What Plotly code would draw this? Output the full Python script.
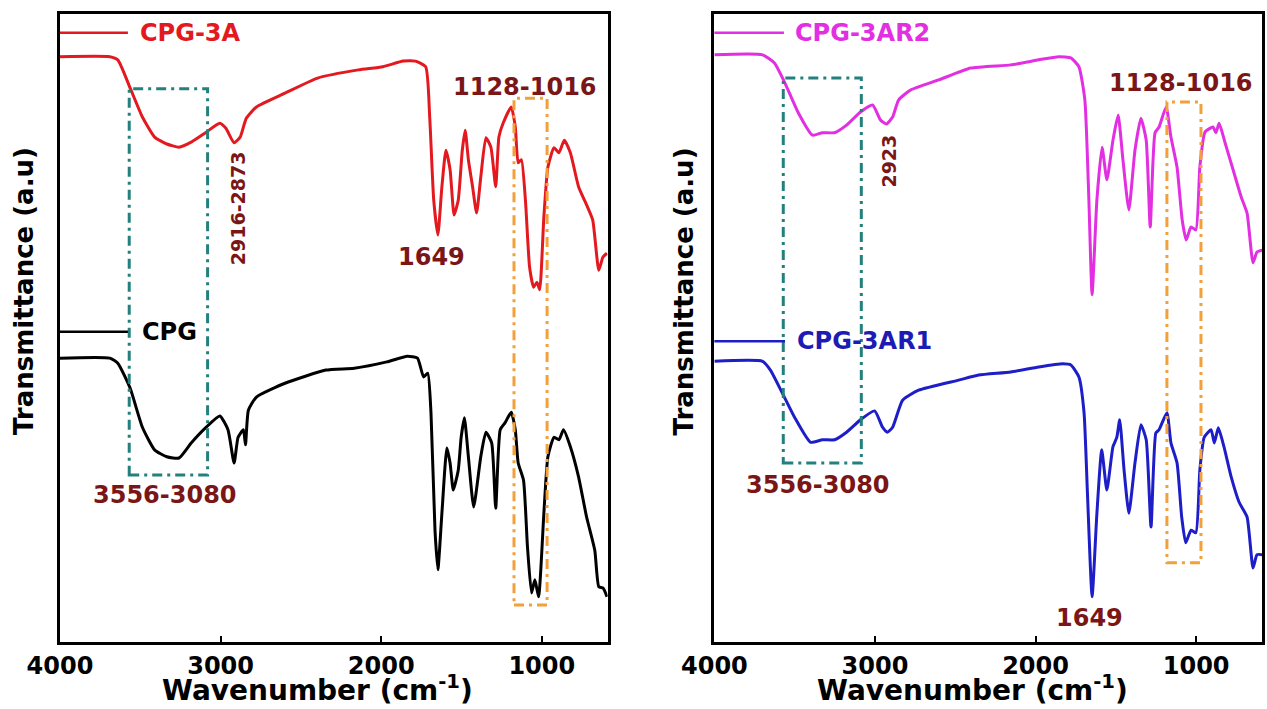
import plotly.graph_objects as go

# ---------------- data ----------------
# CPG-3A (left panel, upper, red)
wn_cpg3a = [4000, 3690, 3640, 3563, 3487, 3411, 3335, 3259, 3183, 3094, 3005, 2967, 2916, 2878, 2840,
            2777, 2599, 2396, 2142, 1990, 1863, 1787, 1723, 1698, 1673, 1647, 1622, 1597, 1571, 1546,
            1520, 1495, 1477, 1457, 1431, 1406, 1380, 1348, 1317, 1287, 1267, 1241, 1190, 1165, 1147,
            1127, 1102, 1076, 1051, 1030, 1013, 987, 962, 924, 893, 860, 822, 771, 721, 683, 645, 619, 594]
t_cpg3a = [93.2, 93.2, 92.7, 88.2, 83.6, 80.4, 79.3, 78.8, 79.6, 81.1, 82.6, 81.8, 79.5, 80.4, 83.4,
           85.2, 87.4, 89.8, 91.1, 91.6, 92.5, 92.5, 91.6, 83.6, 70.4, 64.8, 72.5, 78.3, 75.2, 68.0,
           70.4, 78.3, 81.5, 76.8, 72.5, 68.3, 74.0, 80.3, 78.8, 72.5, 80.4, 82.6, 85.2, 82.0, 76.3,
           76.8, 70.4, 59.7, 56.5, 57.3, 56.1, 67.7, 75.6, 78.7, 77.9, 79.9, 77.9, 72.5, 69.6, 67.2, 59.2, 61.3, 61.9]

# CPG (left panel, lower, black)
wn_cpg = [4000, 3690, 3640, 3563, 3487, 3411, 3335, 3259, 3183, 3094, 3005, 2954, 2916, 2891, 2858,
          2845, 2827, 2777, 2599, 2345, 2168, 1965, 1838, 1774, 1736, 1710, 1690, 1665, 1647, 1622,
          1591, 1571, 1551, 1520, 1502, 1482, 1457, 1424, 1380, 1348, 1312, 1287, 1259, 1229, 1190,
          1165, 1147, 1114, 1089, 1064, 1043, 1020, 987, 962, 924, 893, 865, 822, 771, 721, 670, 645, 619, 594]
t_cpg = [45.2, 45.2, 44.4, 40.4, 34.2, 30.6, 29.5, 29.3, 31.7, 34.1, 36.0, 33.8, 28.5, 32.6, 33.8,
         31.4, 36.9, 39.0, 41.2, 43.3, 43.6, 44.6, 45.5, 45.2, 42.2, 42.8, 36.5, 17.8, 11.5, 20.5,
         30.9, 28.5, 24.2, 27.4, 32.6, 35.7, 29.5, 21.5, 29.5, 33.4, 31.7, 21.3, 33.8, 34.9, 36.6,
         33.8, 28.5, 25.8, 15.1, 7.8, 9.9, 7.2, 20.5, 29.5, 32.6, 32.2, 33.8, 31.1, 26.3, 19.9, 14.6, 8.8, 8.6, 7.2]

# CPG-3AR2 (right panel, upper, magenta)
wn_cpg3ar2 = [4000, 3700, 3626, 3564, 3476, 3389, 3327, 3252, 3177, 3090, 3015, 2965, 2928, 2890, 2853,
              2778, 2603, 2404, 2154, 1980, 1855, 1780, 1730, 1693, 1668, 1648, 1618, 1586, 1556, 1518,
              1486, 1456, 1419, 1381, 1344, 1311, 1286, 1256, 1231, 1187, 1157, 1119, 1087, 1062, 1032,
              1002, 977, 945, 895, 877, 857, 820, 770, 720, 683, 646, 621, 588]
t_cpg3ar2 = [93.5, 93.5, 92.2, 89.2, 84.2, 80.7, 81.1, 81.1, 82.3, 84.4, 85.5, 83.1, 82.5, 83.6, 86.3,
             87.9, 89.5, 91.4, 91.9, 92.7, 93.2, 93.0, 91.6, 86.3, 70.4, 55.3, 70.4, 78.8, 73.6, 79.9,
             83.9, 76.8, 68.8, 78.3, 83.4, 79.9, 66.1, 81.1, 82.0, 85.2, 80.4, 75.6, 67.2, 64.0, 66.1,
             65.6, 75.6, 81.2, 82.0, 81.1, 82.6, 79.5, 75.2, 70.9, 68.3, 60.4, 62.1, 62.4]

# CPG-3AR1 (right panel, lower, blue)
wn_cpg3ar1 = [4000, 3700, 3651, 3576, 3501, 3401, 3327, 3252, 3177, 3090, 3002, 2953, 2923, 2890, 2828,
              2728, 2479, 2354, 2154, 1980, 1830, 1780, 1730, 1698, 1676, 1648, 1618, 1588, 1556, 1518,
              1494, 1476, 1449, 1419, 1381, 1344, 1311, 1281, 1251, 1231, 1182, 1157, 1119, 1090, 1065,
              1032, 1002, 977, 950, 907, 887, 862, 827, 782, 733, 683, 646, 621, 588]
t_cpg3ar1 = [44.7, 44.7, 43.3, 39.6, 35.8, 31.8, 32.2, 32.2, 33.4, 35.4, 36.8, 34.2, 33.4, 34.2, 38.5,
             40.1, 41.7, 42.5, 43.0, 43.8, 44.3, 44.1, 42.2, 36.5, 23.1, 7.2, 20.5, 30.6, 24.2, 31.1,
             32.6, 35.4, 27.4, 20.5, 28.5, 34.6, 32.2, 18.3, 33.3, 33.8, 36.5, 31.7, 28.5, 19.9, 15.8,
             17.8, 17.4, 27.4, 32.6, 33.8, 31.7, 34.1, 31.1, 26.3, 22.3, 19.9, 11.8, 13.9, 13.9]

x_ticks = [4000, 3000, 2000, 1000]
x_range = [4000, 590]
y_range = [0, 100]

# highlighted regions: (x_left, x_right, y_bottom, y_top)
left_boxes = {"teal": (3569, 3081, 26.6, 88.1), "orange": (1173, 967, 5.9, 86.6)}
right_boxes = {"teal": (3571, 3085, 28.5, 89.8), "orange": (1182, 970, 12.6, 86.0)}

# peak labels: (text, x, y, angle)
left_labels = [("1128-1016", 1106, 88.4, 0), ("2916-2873", 2891, 69.1, -90),
               ("1649", 1685, 61.3, 0), ("3556-3080", 3348, 23.4, 0)]
right_labels = [("1128-1016", 1094, 89.0, 0), ("2923", 2915, 76.6, -90),
                ("3556-3080", 3352, 25.0, 0), ("1649", 1661, 3.8, 0)]

# ---------------- styling ----------------
FONT = "DejaVu Sans"
RED = "#e3191f"
BLACK = "#000000"
MAGENTA = "#e22fe2"
BLUE = "#1e1ec8"
LABEL = "#7a1616"
TEAL = "#23807d"
ORANGE = "#f2a03a"
DASH = "10px,5px,3px,5px"

fig = go.Figure()

series = [
    (wn_cpg3a, t_cpg3a, RED, "CPG-3A", "x", "y"),
    (wn_cpg, t_cpg, BLACK, "CPG", "x", "y"),
    (wn_cpg3ar2, t_cpg3ar2, MAGENTA, "CPG-3AR2", "x2", "y2"),
    (wn_cpg3ar1, t_cpg3ar1, BLUE, "CPG-3AR1", "x2", "y2"),
]
for wn, t, col, name, xa, ya in series:
    fig.add_trace(go.Scatter(x=wn, y=t, mode="lines", name=name, xaxis=xa, yaxis=ya,
                             line=dict(color=col, width=3, shape="spline", smoothing=0.5),
                             showlegend=False))

axis_common = dict(range=x_range, tickvals=x_ticks, ticks="inside", ticklen=6, tickwidth=2,
                   tickcolor="black", showline=True, linecolor="black", linewidth=2.5, mirror=True,
                   showgrid=False, zeroline=False, ticklabelstandoff=0,
                   tickfont=dict(family=FONT, size=24, color="black", weight="bold"))
yaxis_common = dict(range=y_range, showticklabels=False, ticks="", showline=True, linecolor="black",
                    linewidth=2.5, mirror=True, showgrid=False, zeroline=False)

fig.update_layout(
    width=1267, height=709,
    margin=dict(l=60, r=2, t=14, b=67),
    paper_bgcolor="white", plot_bgcolor="white",
    xaxis=dict(domain=[0, 0.4556], anchor="y", **axis_common),
    yaxis=dict(domain=[0, 1], anchor="x", **yaxis_common),
    xaxis2=dict(domain=[0.5444, 1.0], anchor="y2", **axis_common),
    yaxis2=dict(domain=[0, 1], anchor="x2", **yaxis_common),
)

# boxes
for (xa, ya, boxes) in (("x", "y", left_boxes), ("x2", "y2", right_boxes)):
    for key, (x0, x1, y0, y1) in boxes.items():
        col = TEAL if key == "teal" else ORANGE
        fig.add_shape(type="rect", xref=xa, yref=ya, x0=x0, x1=x1, y0=y0, y1=y1,
                      line=dict(color=col, width=3, dash=DASH), fillcolor="rgba(0,0,0,0)")

# peak labels
for (xa, ya, labels) in (("x", "y", left_labels), ("x2", "y2", right_labels)):
    for text, x, y, ang in labels:
        fig.add_annotation(x=x, y=y, xref=xa, yref=ya, text=text, showarrow=False,
                           textangle=ang, xanchor="center", yanchor="middle",
                           font=dict(family=FONT, size=19 if ang else 24, color=LABEL, weight="bold"))

# in-plot legend keys: (axis, line end in domain fraction, y in domain fraction, text x, color, name)
legend_keys = [
    ("x", "y", 0.124, 0.970, 0.142, RED, RED, "CPG-3A"),
    ("x", "y", 0.124, 0.494, 0.146, BLACK, BLACK, "CPG"),
    ("x2", "y2", 0.127, 0.970, 0.144, MAGENTA, MAGENTA, "CPG-3AR2"),
    ("x2", "y2", 0.129, 0.479, 0.148, BLUE, "#1c1cb4", "CPG-3AR1"),
]
for xa, ya, xend, yk, xt, lc, tc, name in legend_keys:
    fig.add_shape(type="line", xref=xa + " domain", yref=ya + " domain", x0=0, x1=xend, y0=yk, y1=yk,
                  line=dict(color=lc, width=2.5))
    fig.add_annotation(xref=xa + " domain", yref=ya + " domain", x=xt, y=yk, text=name,
                       showarrow=False, xanchor="left", yanchor="middle",
                       font=dict(family=FONT, size=24, color=tc, weight="bold"))

# axis titles
for xc in (0.2141, 0.7593):
    fig.add_annotation(xref="paper", yref="paper", x=xc, y=-0.074, yanchor="middle", xanchor="center",
                       text="Wavenumber (cm<sup>-1</sup>)", showarrow=False,
                       font=dict(family=FONT, size=28, color="black", weight="bold"))
for xc in (-0.0299, 0.5187):
    fig.add_annotation(xref="paper", yref="paper", x=xc, y=0.559, xanchor="center", yanchor="middle",
                       text="Transmittance (a.u)", textangle=-90, showarrow=False,
                       font=dict(family=FONT, size=26, color="black", weight="bold"))

fig.write_html("out.html", config={"displayModeBar": False},
               post_script="document.body.style.margin='0px';"
                           "document.body.style.overflow='hidden';")
